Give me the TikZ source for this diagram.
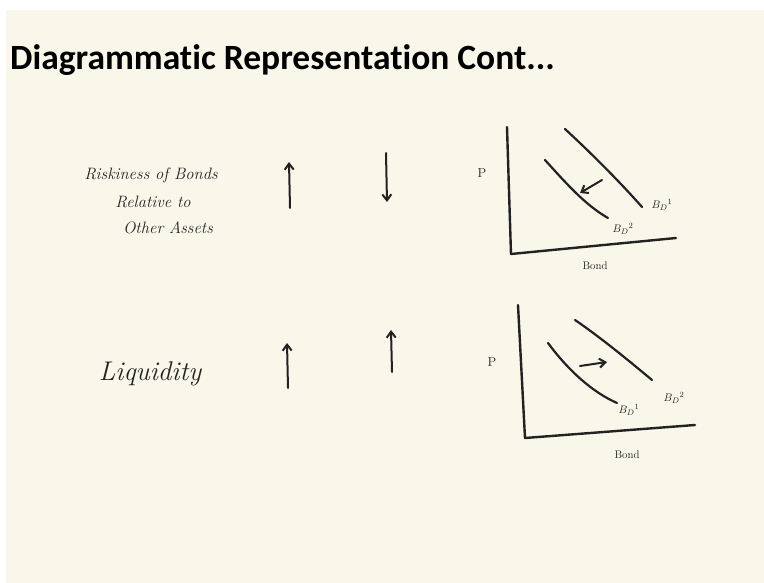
\documentclass[tikz,border=0pt]{standalone}
\usepackage{fontspec}
\setsansfont{Carlito}[Ligatures={NoCommon}]
\usetikzlibrary{arrows.meta}
\definecolor{paper}{HTML}{F8F7EA}
\definecolor{ink}{HTML}{222222}
\tikzset{
  pen/.style={draw=ink, line width=2.2pt, line cap=round, line join=round},
  axis/.style={pen, line width=2.4pt},
  shiftarrow/.style={pen, line width=2pt, -{Straight Barb[length=6pt,width=9pt,line width=2pt]}},
  hand/.style={text=ink, font=\itshape, inner sep=0pt},
  lbl/.style={text=ink, inner sep=0pt, font=\fontsize{11}{12}\selectfont},
}
\begin{document}
\begin{tikzpicture}[x=1pt,y=-1pt]
\useasboundingbox (0,0) rectangle (764,583);
\fill[white] (0,0) rectangle (764,583);
\fill[paper] (6,10) rectangle (764,583);
% title
\node[anchor=base west, inner sep=0pt, text=black, font=\sffamily\bfseries\fontsize{35.5}{38}\selectfont] (title) at (10,70) {Diagrammatic Representation Cont...};
% row 1
\node[hand, font=\itshape\fontsize{16.5}{18}\selectfont] (r1) at (151,175) {Riskiness of Bonds};
\node[hand, font=\itshape\fontsize{16.5}{18}\selectfont] (r2) at (153,202) {Relative to};
\node[hand, font=\itshape\fontsize{16.5}{18}\selectfont] (r3) at (168,228) {Other Assets};
\coordinate (u1a) at (290,208); \coordinate (u1b) at (289,162);
\draw[shiftarrow] (u1a) -- (u1b);
\coordinate (d1a) at (386,153); \coordinate (d1b) at (387,202);
\draw[shiftarrow] (d1a) -- (d1b);
% graph 1
\node[lbl, font=\fontsize{13}{14}\selectfont] (p1) at (482,173) {P};
\coordinate (g1top) at (507,127); \coordinate (g1o) at (511,254); \coordinate (g1right) at (676,238);
\draw[axis] (g1top) -- (g1o) -- (g1right);
\coordinate (c1a) at (565,129); \coordinate (c1b) at (642,207);
\draw[pen] (c1a) .. controls (590,152) and (620,182) .. (c1b);
\coordinate (c2a) at (545,160); \coordinate (c2b) at (608,218);
\draw[pen] (c2a) .. controls (565,182) and (585,205) .. (c2b);
\coordinate (a1s) at (602,180); \coordinate (a1e) at (580,193);
\draw[shiftarrow] (a1s) -- (a1e);
\node[lbl] (bd11) at (662,205) {$B_D{}^{1}$};
\node[lbl] (bd12) at (623,229) {$B_D{}^{2}$};
\node[lbl] (bond1) at (595,266) {Bond};
% row 2
\node[hand, font=\itshape\fontsize{27}{29}\selectfont] (liq) at (150,374) {Liquidity};
\coordinate (u2a) at (288,388); \coordinate (u2b) at (287,343);
\draw[shiftarrow] (u2a) -- (u2b);
\coordinate (u3a) at (392,372); \coordinate (u3b) at (391,330);
\draw[shiftarrow] (u3a) -- (u3b);
% graph 2
\node[lbl, font=\fontsize{13}{14}\selectfont] (p2) at (492,362) {P};
\coordinate (g2top) at (518,305); \coordinate (g2o) at (525,438); \coordinate (g2right) at (695,425);
\draw[axis] (g2top) -- (g2o) -- (g2right);
\coordinate (c3a) at (548,343); \coordinate (c3b) at (617,403);
\draw[pen] (c3a) .. controls (568,370) and (592,392) .. (c3b);
\coordinate (c4a) at (575,320); \coordinate (c4b) at (652,380);
\draw[pen] (c4a) .. controls (600,337) and (628,360) .. (c4b);
\coordinate (a2s) at (580,366); \coordinate (a2e) at (607,362);
\draw[shiftarrow] (a2s) -- (a2e);
\node[lbl] (bd21) at (629,410) {$B_D{}^{1}$};
\node[lbl] (bd22) at (674,398) {$B_D{}^{2}$};
\node[lbl] (bond2) at (627,455) {Bond};
\end{tikzpicture}
\end{document}
